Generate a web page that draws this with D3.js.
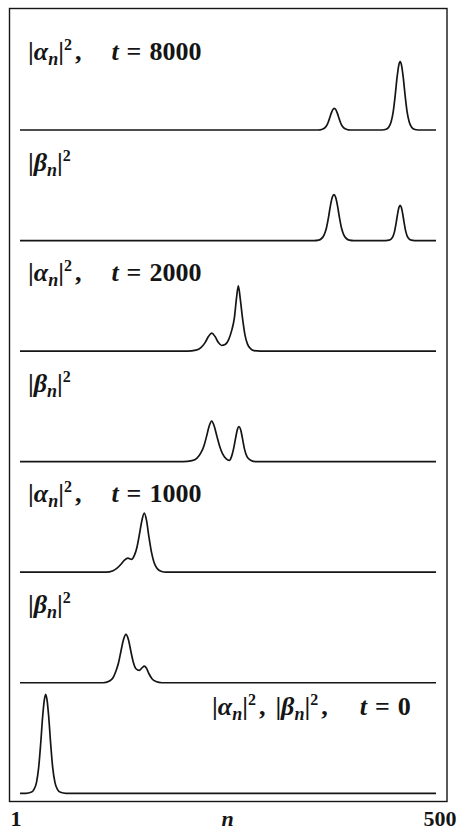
<html>
	<script src="https://d3js.org/d3.v7.min.js"></script>
	<body style="margin:0; background:#fff;" onload="init()">
		<svg width=459 height=839></svg>
	</body>

	<script>
		//------------------------data------------------------//
		// [n, |amplitude|^2], one array per panel
		const alpha8000 = [[1,0],[356.4,0],[361.2,0.002],[364.2,0.009],[367.2,0.026],[369.6,0.056],[372,0.109],[374.4,0.169],[376.2,0.204],[378,0.217],[379.8,0.204],[381.6,0.169],[384,0.109],[386.4,0.056],[388.8,0.026],[391.8,0.009],[394.8,0.002],[399.6,0],
			[435.4,0],[440.2,0.007],[443.2,0.027],[446.2,0.082],[448.6,0.178],[451,0.342],[453.4,0.533],[455.2,0.642],[457,0.683],[458.8,0.642],[460.6,0.533],[463,0.342],[465.4,0.178],[467.8,0.082],[470.8,0.027],[473.8,0.007],[478.6,0],[500,0]];
		const beta8000 = [[1,0],[353.8,0],[359.1,0.005],[362.4,0.018],[365.7,0.055],[368.4,0.12],[371,0.23],[373.6,0.359],[375.6,0.432],[377.6,0.46],[379.6,0.432],[381.6,0.359],[384.2,0.23],[386.8,0.12],[389.5,0.055],[392.8,0.018],[396.1,0.005],[401.4,0],
			[439.7,0],[443.6,0.004],[446,0.014],[448.4,0.042],[450.3,0.092],[452.2,0.177],[454.1,0.275],[455.6,0.332],[457,0.353],[458.4,0.332],[459.9,0.275],[461.8,0.177],[463.7,0.092],[465.6,0.042],[468,0.014],[470.4,0.004],[474.3,0],[500,0]];
		const alpha2000 = [[1,0],[202,0],[212,0.01],[218,0.035],[223,0.085],[227,0.145],[231,0.18],[235,0.145],[239,0.085],[243,0.056],[247,0.065],[251,0.11],[254.7,0.2],[258.1,0.33],[260.7,0.53],[262.9,0.653],[265.1,0.53],[267.9,0.33],[270.9,0.16],[273.9,0.07],[277.5,0.025],[281.7,0.005],[289,0],[500,0]];
		const beta2000 = [[1,0],[196.5,0],[207.3,0.01],[213.3,0.035],[218.1,0.09],[221.7,0.16],[224.7,0.25],[227.7,0.35],[230.9,0.406],[234.2,0.35],[237.3,0.25],[240.3,0.16],[243.9,0.08],[248.1,0.03],[252.1,0.012],
			[254.7,0.05],[257.1,0.125],[259.5,0.23],[261.7,0.32],[263.7,0.35],[265.7,0.32],[267.9,0.23],[270.3,0.125],[273.3,0.05],[277.5,0.015],[284.1,0],[500,0]];
		const alpha1000 = [[1,0],[104.2,0],[112.6,0.015],[117.4,0.04],[122.2,0.08],[126.3,0.12],[130.5,0.14],[134.7,0.128],[138.3,0.17],[141.3,0.25],[144.3,0.38],[147.3,0.52],[150.1,0.59],[152.7,0.52],[155.7,0.35],[158.7,0.2],[161.7,0.1],[165.3,0.04],[170.1,0.01],[176.1,0],[500,0]];
		const beta1000 = [[1,0],[100.6,0],[107.8,0.015],[112.6,0.05],[116.2,0.12],[119.2,0.2],[122.2,0.32],[125.1,0.43],[128.1,0.483],[131.1,0.43],[134.1,0.31],[137.1,0.2],[140.1,0.14],[144.1,0.123],[147.3,0.148],[150.1,0.166],[152.7,0.145],[155.7,0.09],[159.3,0.04],[164.1,0.012],[171.3,0],[500,0]];
		const start0 = [[1,0],[8.2,0],[14.2,0.01],[17.8,0.04],[20.8,0.11],[23.4,0.26],[25.8,0.495],[28.2,0.77],[30.1,0.93],[31.8,0.99],[33.5,0.93],[35.4,0.77],[37.8,0.495],[40.2,0.26],[42.9,0.11],[45.9,0.04],[49.6,0.01],[56.2,0],[500,0]];

		const panels = [alpha8000, beta8000, alpha2000, beta2000, alpha1000, beta1000, start0];
		const panelKind = ["alpha", "beta", "alpha", "beta", "alpha", "beta", "both"];
		const panelTime = ["8000", null, "2000", null, "1000", null, "0"];
		const axisLabels = ["1", "n", "500"];

		function init() {
			var svg = d3.select("svg");

			var x = d3.scaleLinear().domain([1, 500]).range([20, 436]);
			// baseline of each panel, top to bottom
			var base = d3.scaleLinear().domain([0, panels.length - 1]).range([130, 793.3]);
			var h = d3.scaleLinear().domain([0, 1]).range([0, 100]);

			const ink = "#151515";
			const serif = "'Liberation Serif', 'DejaVu Serif', serif";

			// frame
			svg.append("rect")
				.attr("x", 9.5).attr("y", 8.5)
				.attr("width", 437.5).attr("height", 793)
				.style("fill", "none")
				.style("stroke", ink)
				.style("stroke-width", 1.4);

			//------------------------curves------------------------//
			panels.forEach(function(data, i) {
				var line = d3.line()
					.x(function(d) { return x(d[0]); })
					.y(function(d) { return base(i) - h(d[1]); })
					.curve(d3.curveMonotoneX);

				svg.append("path")
					.datum(data)
					.attr("d", line)
					.style("fill", "none")
					.style("stroke", ink)
					.style("stroke-width", 1.7)
					.style("stroke-linejoin", "round");
			});

			//------------------------labels------------------------//
			function modulus(t, sym, comma, lead) {
				t.append("tspan").attr("dx", lead || 0).text("|");
				t.append("tspan").style("font-style", "italic").text(sym);
				t.append("tspan").attr("dy", 5).style("font-style", "italic").style("font-size", "18px").text("n");
				t.append("tspan").attr("dy", -5).text("|");
				t.append("tspan").attr("dy", -10).style("font-size", "16px").text("2");
				if (comma) t.append("tspan").attr("dy", 10).attr("dx", 3).text(",");
			}

			panels.forEach(function(data, i) {
				var kind = panelKind[i], time = panelTime[i];
				var t = svg.append("text")
					.attr("x", kind == "both" ? 212 : 28)
					.attr("y", base(i) - (kind == "both" ? 78 : 70))
					.style("font-family", serif)
					.style("font-weight", "bold")
					.style("font-size", "26px")
					.style("fill", ink);

				if (kind == "alpha") modulus(t, "α", true);
				if (kind == "beta") modulus(t, "β", false);
				if (kind == "both") {
					modulus(t, "α", true);
					modulus(t, "β", true, 10);
				}
				if (time) {
					t.append("tspan").attr("dx", kind == "both" ? 32 : 30).style("font-style", "italic").text("t");
					t.append("tspan").attr("dx", 8).text("=");
					t.append("tspan").attr("dx", 8).text(time);
				}
			});

			// n axis labels
			svg.selectAll(".axislab")
				.data(axisLabels)
				.enter()
				.append("text")
				.attr("class", "axislab")
				.attr("x", function(d, i) { return i == 1 ? x(250) : (i == 0 ? 16 : 440); })
				.attr("y", 826)
				.attr("text-anchor", "middle")
				.style("font-family", serif)
				.style("font-weight", "bold")
				.style("font-style", function(d) { return d == "n" ? "italic" : "normal"; })
				.style("font-size", "22px")
				.style("fill", ink)
				.text(function(d) { return d; });
		}
	</script>
</html>
